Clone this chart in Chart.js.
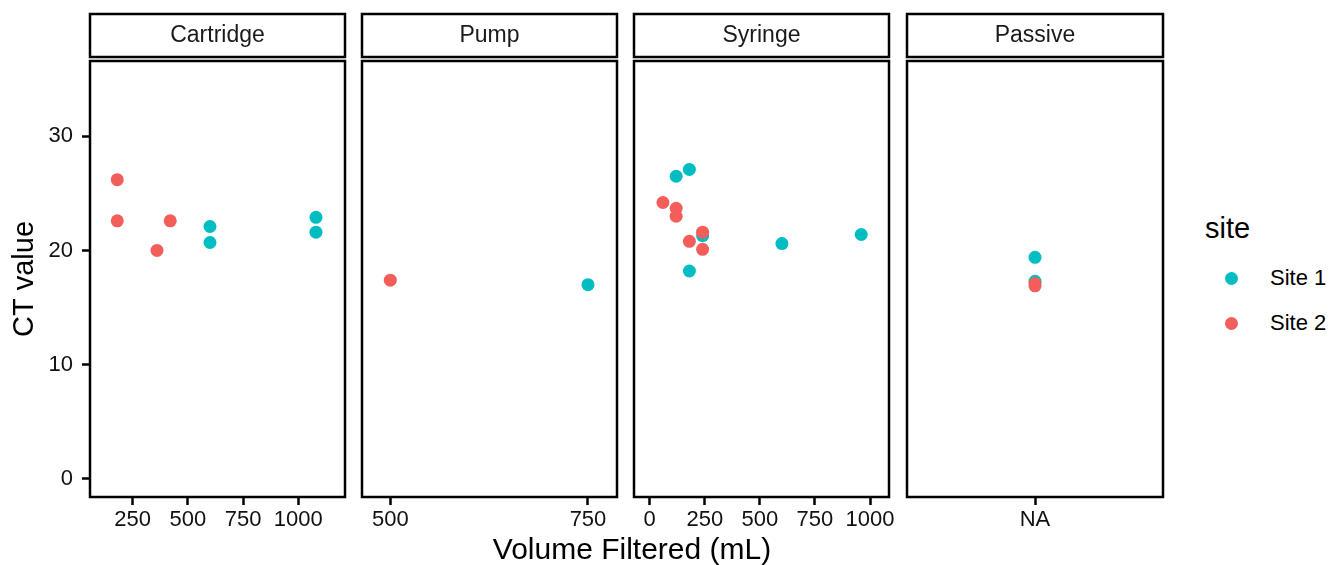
<!DOCTYPE html>
<html>
<head>
<meta charset="utf-8">
<script src="https://cdn.jsdelivr.net/npm/chart.js@4.4.1/dist/chart.umd.min.js"></script>
<style>
  body { margin: 0; background: #fff; width: 1330px; height: 565px; overflow: hidden; position: relative;
         font-family: "Liberation Sans", Arial, sans-serif; }
  canvas { position: absolute; top: 0; }
  .xtitle { position: absolute; left: 432px; width: 400px; top: 531px; text-align: center; font-size: 30px; color: #000; line-height: 36px; }
  .legend { position: absolute; left: 1205px; top: 208px; color: #000; }
  .legend .title { font-size: 29px; line-height: 36px; position: absolute; left: 0; top: 2px; }
  .legend .item { position: absolute; left: 20px; font-size: 22px; line-height: 26px; white-space: nowrap; }
  .legend .dot { display: inline-block; width: 13px; height: 13px; border-radius: 50%; position: absolute; left: -0.5px; top: 6.5px; }
  .legend .lab { position: absolute; left: 45px; top: 0; }
</style>
</head>
<body>
<canvas id="p1" width="365" height="565" style="left:0px"></canvas>
<canvas id="p2" width="295" height="565" style="left:342px"></canvas>
<canvas id="p3" width="295" height="565" style="left:614px"></canvas>
<canvas id="p4" width="296" height="565" style="left:887px"></canvas>
<div class="xtitle">Volume Filtered (mL)</div>
<div class="legend">
  <div class="title">site</div>
  <div class="item" style="top:57px"><span class="dot" style="background:#00BDC2"></span><span class="lab">Site 1</span></div>
  <div class="item" style="top:102px"><span class="dot" style="background:#F35E5A"></span><span class="lab">Site 2</span></div>
</div>
<script>
var site1Color = '#00BDC2';
var site2Color = '#F35E5A';
var fontFamily = '"Liberation Sans", Arial, sans-serif';

// CT value range shared by all facets
var yMin = -1.6;
var yMax = 36.6;
var yTicks = [0, 10, 20, 30];

// Cartridge
var cartX1 = [600, 600, 1080, 1080];
var cartY1 = [22.1, 20.7, 22.9, 21.6];
var cartX2 = [180, 180, 420, 360];
var cartY2 = [26.2, 22.6, 22.6, 20.0];
var cartTicks = [250, 500, 750, 1000];

// Pump
var pumpX1 = [750];
var pumpY1 = [17.0];
var pumpX2 = [500];
var pumpY2 = [17.4];
var pumpTicks = [500, 750];

// Syringe
var syrX1 = [180, 120, 240, 600, 960, 180];
var syrY1 = [27.1, 26.5, 21.3, 20.6, 21.4, 18.2];
var syrX2 = [60, 120, 120, 240, 180, 240];
var syrY2 = [24.2, 23.7, 23.0, 21.6, 20.8, 20.1];
var syrTicks = [0, 250, 500, 750, 1000];

// Passive (no volume recorded)
var passX1 = ['NA', 'NA'];
var passY1 = [19.4, 17.3];
var passX2 = ['NA', 'NA'];
var passY2 = [17.1, 16.9];
var passTicks = ['NA'];

function toPoints(xs, ys) {
    var pts = [];
    for (var i in xs) {
        pts.push({ x: xs[i], y: ys[i] });
    }
    return pts;
}

// strip on top of each panel + the panel border
var stripPlugin = {
    id: 'strip',
    afterDraw: function (chart, args, opts) {
        var a = chart.chartArea;
        var ctx = chart.ctx;
        ctx.save();
        ctx.lineWidth = 2.5;
        ctx.strokeStyle = '#000';
        ctx.strokeRect(a.left, a.top, a.right - a.left, a.bottom - a.top);
        ctx.fillStyle = '#fff';
        ctx.fillRect(a.left, 14, a.right - a.left, 43);
        ctx.strokeRect(a.left, 14, a.right - a.left, 43);
        ctx.fillStyle = '#1a1a1a';
        ctx.font = '23px ' + fontFamily;
        ctx.textAlign = 'center';
        ctx.textBaseline = 'middle';
        ctx.fillText(opts.text, (a.left + a.right) / 2, 36);
        ctx.restore();
    }
};

function makePanel(id, title, xs1, ys1, xs2, ys2, xTicks, xMin, xMax, showY) {
    var xScale;
    if (typeof xTicks[0] === 'string') {
        xScale = { type: 'category', labels: xTicks, offset: true };
    } else {
        xScale = {
            type: 'linear', min: xMin, max: xMax,
            afterBuildTicks: function (s) { s.ticks = xTicks.map(function (v) { return { value: v }; }); }
        };
    }
    xScale.afterFit = function (s) { s.height = 68; };
    xScale.grid = { drawOnChartArea: false, drawTicks: true, tickLength: 8, tickWidth: 2.5, tickColor: '#000' };
    xScale.border = { display: false };
    xScale.ticks = {
        autoSkip: false, maxRotation: 0, padding: 2, color: '#111',
        font: { family: fontFamily, size: 22 },
        callback: function (v) { return typeof xTicks[0] === 'string' ? xTicks[v] : String(v); }
    };

    var yScale = {
        type: 'linear', min: yMin, max: yMax, display: showY,
        afterBuildTicks: function (s) { s.ticks = yTicks.map(function (v) { return { value: v }; }); },
        afterFit: function (s) { s.width = showY ? 90 : 0; },
        grid: { drawOnChartArea: false, drawTicks: true, tickLength: 8, tickWidth: 2.5, tickColor: '#000' },
        border: { display: false },
        ticks: { padding: 9, color: '#111', font: { family: fontFamily, size: 22 },
                 callback: function (v) { return String(v); } },
        title: { display: true, text: 'CT value', color: '#000', padding: { top: 8, bottom: 0 },
                 font: { family: fontFamily, size: 29 } }
    };

    return new Chart(document.getElementById(id), {
        type: 'scatter',
        data: {
            datasets: [
                {
                    label: 'Site 1', order: 2,
                    data: toPoints(xs1, ys1),
                    pointBackgroundColor: site1Color, pointBorderWidth: 0, pointRadius: 6.5
                }, {
                    label: 'Site 2', order: 1,
                    data: toPoints(xs2, ys2),
                    pointBackgroundColor: site2Color, pointBorderWidth: 0, pointRadius: 6.5
                }
            ]
        },
        options: {
            responsive: false,
            animation: false,
            events: [],
            layout: { autoPadding: false, padding: { top: 61, bottom: 0, left: showY ? 0 : 20, right: 20 } },
            scales: { x: xScale, y: yScale },
            plugins: {
                legend: { display: false },
                tooltip: { enabled: false },
                strip: { text: title }
            }
        },
        plugins: [stripPlugin]
    });
}

makePanel('p1', 'Cartridge', cartX1, cartY1, cartX2, cartY2, cartTicks, 56.6, 1211.5, true);
makePanel('p2', 'Pump', pumpX1, pumpY1, pumpX2, pumpY2, pumpTicks, 464.2, 786.7, false);
makePanel('p3', 'Syringe', syrX1, syrY1, syrX2, syrY2, syrTicks, -71.3, 1086, false);
makePanel('p4', 'Passive', passX1, passY1, passX2, passY2, passTicks, 0, 0, false);
</script>
</body>
</html>
